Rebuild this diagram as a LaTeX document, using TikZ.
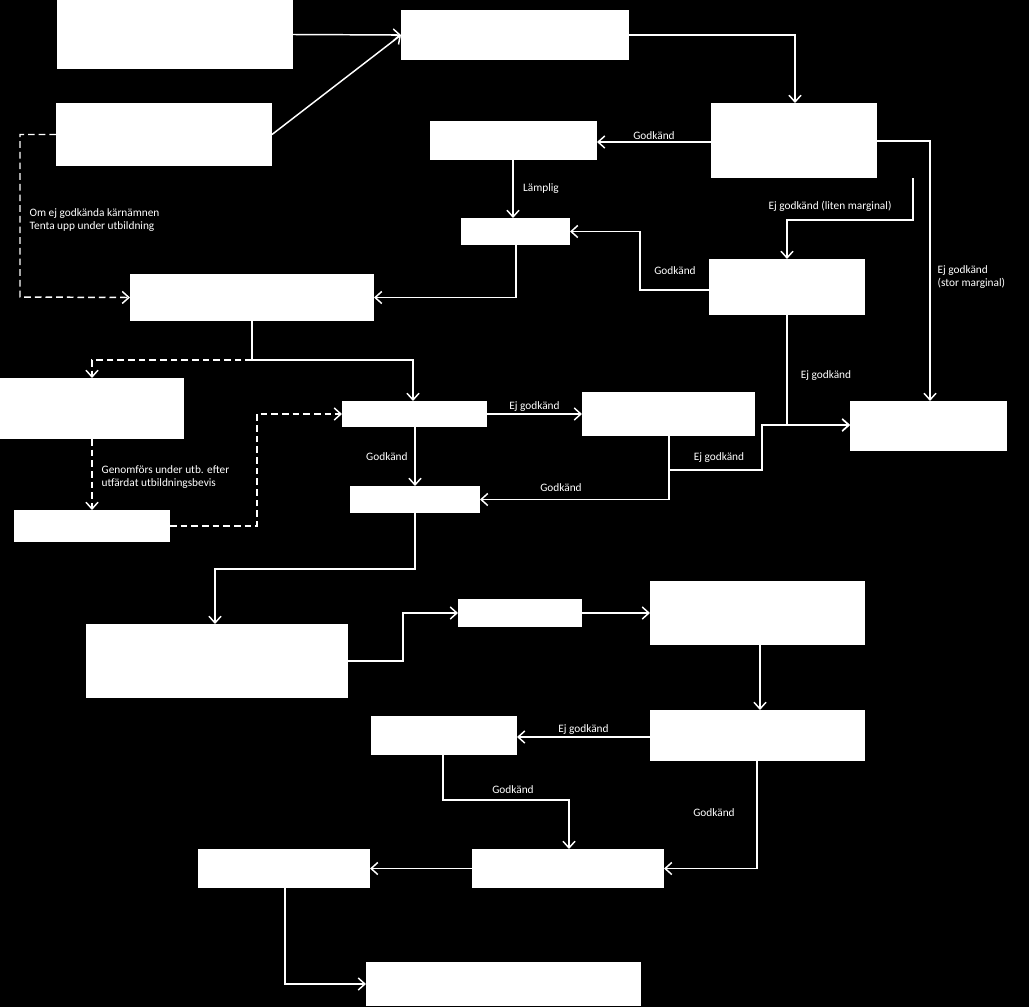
\documentclass[tikz,border=0pt]{standalone}
\usepackage{fontspec}
\setmainfont{Carlito}
\usetikzlibrary{arrows.meta}
\newcommand\bx[5]{\node[box,minimum width={(#4-#2)*0.75pt},minimum height={(#5-#3)*0.75pt}] (#1) at ({(#2+#4)/2},{(#3+#5)/2}) {};}
\begin{document}
\begin{tikzpicture}[x=0.75pt,y=-0.75pt,
  box/.style={draw=none,fill=white,inner sep=0pt,outer sep=0pt},
  con/.style={white,line width=1.1pt,-{Straight Barb[length=5pt,width=9pt]}},
  dcon/.style={con,dashed,dash pattern=on 5pt off 3pt},
  lbl/.style={white,font=\fontsize{8.5}{10}\selectfont,inner sep=1pt,align=left}]
\fill[black] (0,0) rectangle (1029,1007);
\useasboundingbox (0,0) rectangle (1029,1007);
\bx{A}{57}{0}{293}{69}
\bx{B}{401}{10}{629}{60}
\bx{C}{56}{103}{272}{166}
\bx{D}{711}{103}{877}{178}
\bx{E}{430}{121}{597}{160}
\bx{F}{461}{218}{570}{245}
\bx{G}{709}{259}{865}{315}
\bx{H}{130}{274}{374}{321}
\bx{I}{0}{378}{184}{439}
\bx{J}{342}{401}{487}{427}
\bx{K}{582}{392}{755}{436}
\bx{L}{850}{401}{1007}{451}
\bx{M}{350}{486}{480}{513}
\bx{N}{14}{510}{170}{542}
\bx{O}{86}{624}{348}{698}
\bx{P}{458}{599}{582}{627}
\bx{Q}{650}{581}{865}{645}
\bx{R}{371}{716}{517}{755}
\bx{S}{650}{710}{865}{761}
\bx{T}{198}{849}{370}{888}
\bx{U}{472}{849}{664}{888}
\bx{V}{366}{962}{641}{1006}
\coordinate (dd) at (20,297);
\draw[con] (A.east) -- (B.west);
\draw[con] (C.east) -- (B.west);
\draw[dcon] (C.west) -| (dd) -- (H.west);
\node[lbl,anchor=west] at (28,220) {Om ej godkända kärnämnen\\Tenta upp under utbildning};
\draw[con] (B.east) -| (795,0 |- D.north);
\draw[con] (D.west|-0,142) -- (E.east|-0,142) node[lbl,midway,above] {Godkänd};
\draw[con] (513,0 |- E.south) -- (513,0 |- F.north) node[lbl,midway,right,xshift=6pt] {Lämplig};
\draw[con] (913,0 |- D.south) -- (913,220) -| (787,0 |- G.north);
\node[lbl] at (830,206) {Ej godkänd (liten marginal)};
\draw[con] (D.east|-0,141) -- (930,141) -- (930,0 |- L.north);
\node[lbl,anchor=west] at (936,277) {Ej godkänd\\(stor marginal)};
\draw[con] (G.west|-0,290) -- (640,290) |- (F.east);
\node[lbl] at (675,271) {Godkänd};
\draw[con] (516,0 |- F.south) |- (H.east);
\draw[con] (787,0 |- G.south) -- (787,425) -- (L.west|-0,425);
\node[lbl] at (826,376) {Ej godkänd};
\draw[con] (252,0 |- H.south) -- (252,360) -| (413,0 |- J.north);
\draw[dcon] (252,360) -| (92,0 |- I.north);
\draw[con] (J.east) -- (K.west|-J.east) node[lbl,midway,above] {Ej godkänd};
\draw[con] (415,0 |- J.south) -- (415,0 |- M.north) node[lbl,midway,left,xshift=-4pt] {Godkänd};
\draw[con] (669,0 |- K.south) |- (M.east);
\node[lbl] at (561,488) {Godkänd};
\draw[con] (669,470) -- (762,470) -- (762,425) -- (L.west|-0,425);
\node[lbl] at (719,458) {Ej godkänd};
\draw[dcon] (92,0 |- I.south) -- (92,0 |- N.north);
\node[lbl,anchor=west] at (100,477) {Genomförs under utb. efter\\utfärdat utbildningsbevis};
\draw[dcon] (N.east) -- (257,526) |- (J.west);
\draw[con] (415,0 |- M.south) -- (415,569) -| (215,0 |- O.north);
\draw[con] (O.east|-0,661) -- (403,661) |- (P.west);
\draw[con] (P.east) -- (Q.west|-P.east);
\draw[con] (760,0 |- Q.south) -- (760,0 |- S.north);
\draw[con] (S.west|-0,737) -- (R.east|-0,737) node[lbl,midway,above] {Ej godkänd};
\draw[con] (443,0 |- R.south) -- (443,800) -| (569,0 |- U.north);
\node[lbl] at (513,790) {Godkänd};
\draw[con] (757,0 |- S.south) |- (U.east);
\node[lbl] at (714,813) {Godkänd};
\draw[con] (U.west) -- (T.east);
\draw[con] (285,0 |- T.south) |- (V.west);
\end{tikzpicture}
\end{document}
